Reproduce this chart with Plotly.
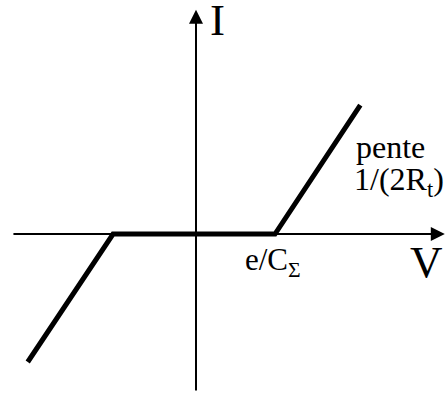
import plotly.graph_objects as go

# I(V) characteristic, units: V in e/C_sigma, I scaled the same way
v_curve = [-2.13, -1.05, 1.0, 2.08]
i_curve = [-1.62, 0.0, 0.0, 1.63]

# axis extents (tail, tip)
v_axis = [-2.33, 3.15]
i_axis = [-2.0, 2.84]

serif = "Liberation Serif, Times New Roman, serif"

fig = go.Figure()

fig.add_trace(go.Scatter(
    x=v_curve, y=i_curve,
    mode="lines",
    line=dict(color="black", width=5),
    hoverinfo="skip",
    showlegend=False,
))

arrow = dict(showarrow=True, arrowhead=2, arrowsize=1.4, arrowwidth=2,
             arrowcolor="black", axref="x", ayref="y", text="")
# horizontal axis
fig.add_annotation(x=v_axis[1], y=0, ax=v_axis[0], ay=0, **arrow)
# vertical axis
fig.add_annotation(x=0, y=i_axis[1], ax=0, ay=i_axis[0], **arrow)

fig.add_annotation(x=0.15, y=2.71, text="I", showarrow=False, xanchor="left",
                   yanchor="middle", font=dict(family=serif, size=45, color="black"))
fig.add_annotation(x=2.68, y=-0.35, text="V", showarrow=False, xanchor="left",
                   yanchor="middle", font=dict(family=serif, size=45, color="black"))
fig.add_annotation(x=0.6, y=-0.36, text="e/C<sub>Σ</sub>", showarrow=False, xanchor="left",
                   yanchor="middle", font=dict(family=serif, size=31, color="black"))
fig.add_annotation(x=2.0, y=1.10, text="pente", showarrow=False, xanchor="left",
                   yanchor="middle", font=dict(family=serif, size=32, color="black"))
fig.add_annotation(x=1.98, y=0.66, text="1/(2R<sub>t</sub>)", showarrow=False, xanchor="left",
                   yanchor="middle", font=dict(family=serif, size=32, color="black"))

fig.update_xaxes(range=[-2.481, 3.152], visible=False, fixedrange=True)
fig.update_yaxes(range=[-2.025, 2.962], visible=False, fixedrange=True)

fig.update_layout(
    width=445, height=394,
    margin=dict(l=0, r=0, t=0, b=0),
    plot_bgcolor="white",
    paper_bgcolor="white",
)

# drop the page's default body margin so the figure sits at the top-left corner
fig.write_html("out.html", config={"displayModeBar": False},
               post_script="document.body.style.margin='0';document.body.style.overflow='hidden';")
